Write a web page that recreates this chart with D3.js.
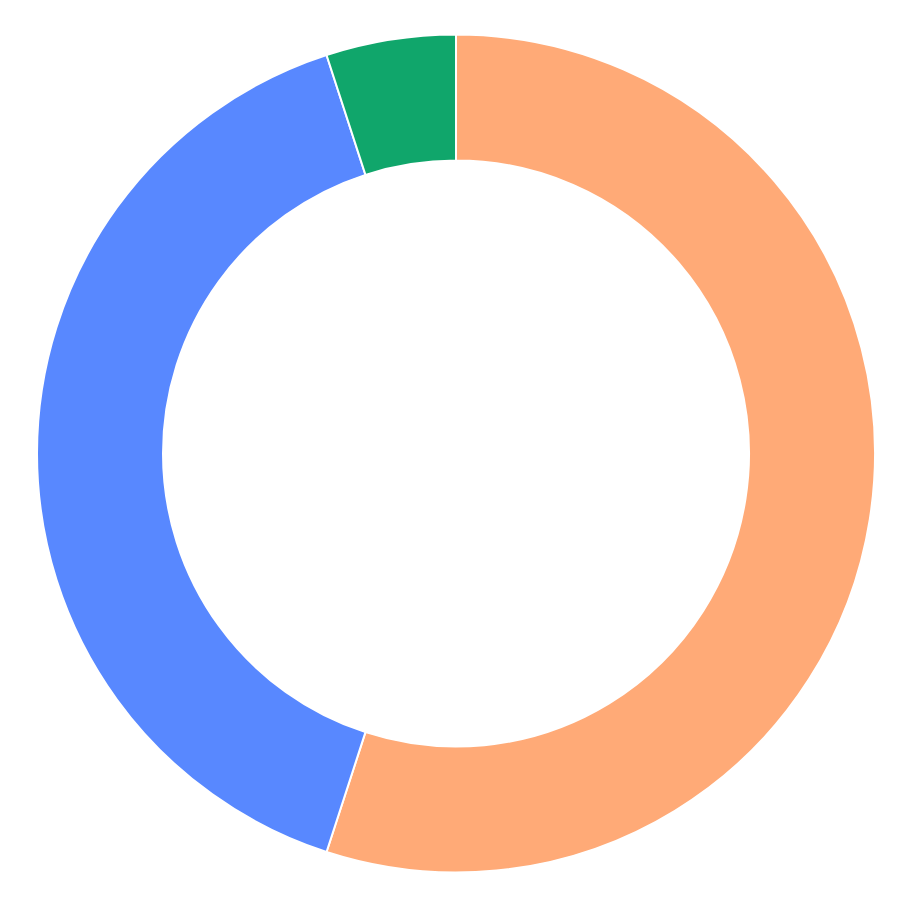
<!DOCTYPE html>
<html>
<head>
<meta charset="utf-8">
<script src="https://cdn.jsdelivr.net/npm/d3@7"></script>
<style>
  html, body { margin: 0; padding: 0; background: #fff; }
</style>
</head>
<body>
<div id="chart"></div>
<script>
var categories = ["A", "B", "C"];
var values = [55, 40, 5];
var colors = ["#ffaa77", "#5888ff", "#10a66b"];

var width = 910, height = 914;
var cx = 456, cy = 453.5;
var outerR = 419, innerR = 293;

var svg = d3.select("#chart").append("svg")
    .attr("width", width)
    .attr("height", height)
  .append("g")
    .attr("transform", "translate(" + cx + "," + cy + ")");

var data = categories.map(function(c, i) { return {name: c, value: values[i], color: colors[i]}; });

var pie = d3.pie()
    .sort(null)
    .value(function(d) { return d.value; });

var arc = d3.arc()
    .innerRadius(innerR)
    .outerRadius(outerR);

svg.selectAll("path.slice")
    .data(pie(data))
  .enter().append("path")
    .attr("class", "slice")
    .attr("d", arc)
    .attr("fill", function(d) { return d.data.color; })
    .attr("stroke", "#fff")
    .attr("stroke-width", 2);
</script>
</body>
</html>
